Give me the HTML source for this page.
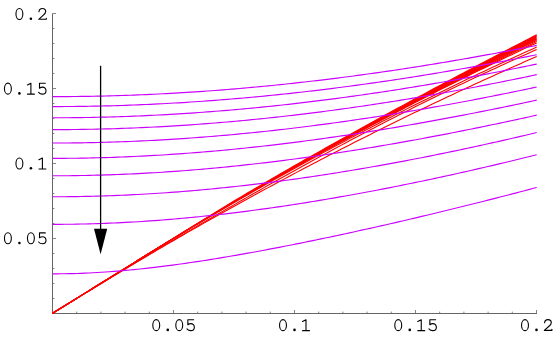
<!DOCTYPE html>
<html><head><meta charset="utf-8"><style>
html,body{margin:0;padding:0;background:#fff;font-family:"Liberation Mono",monospace;}
svg{display:block}
</style></head><body>
<svg width="554" height="342" viewBox="0 0 554 342">
<rect width="554" height="342" fill="#fff"/>
<g fill="none" stroke="#666" stroke-width="1">
<path d="M52.00,313.50 H537.00"/>
<path d="M52.50,314.00 V13.50"/>
</g>
<path d="M76.70,313.50 v-1.9 M100.90,313.50 v-1.9 M125.10,313.50 v-1.9 M149.30,313.50 v-1.9 M173.50,313.50 v-3.5 M197.70,313.50 v-1.9 M221.90,313.50 v-1.9 M246.10,313.50 v-1.9 M270.30,313.50 v-1.9 M294.50,313.50 v-3.5 M318.70,313.50 v-1.9 M342.90,313.50 v-1.9 M367.10,313.50 v-1.9 M391.30,313.50 v-1.9 M415.50,313.50 v-3.5 M439.70,313.50 v-1.9 M463.90,313.50 v-1.9 M488.10,313.50 v-1.9 M512.30,313.50 v-1.9 M536.50,313.50 v-3.5 M52.50,298.50 h1.9 M52.50,283.50 h1.9 M52.50,268.50 h1.9 M52.50,253.50 h1.9 M52.50,238.50 h3.5 M52.50,223.50 h1.9 M52.50,208.50 h1.9 M52.50,193.50 h1.9 M52.50,178.50 h1.9 M52.50,163.50 h3.5 M52.50,148.50 h1.9 M52.50,133.50 h1.9 M52.50,118.50 h1.9 M52.50,103.50 h1.9 M52.50,88.50 h3.5 M52.50,73.50 h1.9 M52.50,58.50 h1.9 M52.50,43.50 h1.9 M52.50,28.50 h1.9 M52.50,13.50 h3.5" fill="none" stroke="#666" stroke-width="0.8"/>
<path d="M52.50,313.30 L56.57,310.78 L60.64,308.26 L64.71,305.73 L68.78,303.21 L72.84,300.69 L76.91,298.17 L80.98,295.65 L85.05,293.12 L89.12,290.60 L93.19,288.08 L97.26,285.56 L101.33,283.04 L105.40,280.51 L109.46,277.99 L113.53,275.47 L117.60,272.95 L121.67,270.43 L125.74,267.90 L129.81,265.38 L133.88,262.86 L137.95,260.34 L142.02,257.81 L146.08,255.29 L150.15,252.77 L154.22,250.25 L158.29,247.73 L162.36,245.20 L166.43,242.68 L170.50,240.16 L174.57,237.64 L178.64,235.12 L182.71,232.59 L186.77,230.07 L190.84,227.55 L194.91,225.03 L198.98,222.51 L203.05,219.98 L207.12,217.46 L211.19,214.94 L215.26,212.42 L219.33,209.92 L223.39,207.44 L227.46,204.97 L231.53,202.53 L235.60,200.09 L239.67,197.66 L243.74,195.24 L247.81,192.83 L251.88,190.43 L255.95,188.04 L260.01,185.65 L264.08,183.27 L268.15,180.90 L272.22,178.54 L276.29,176.18 L280.36,173.83 L284.43,171.48 L288.50,169.14 L292.57,166.81 L296.63,164.48 L300.70,162.16 L304.77,159.84 L308.84,157.53 L312.91,155.22 L316.98,152.92 L321.05,150.62 L325.12,148.33 L329.19,146.04 L333.25,143.76 L337.32,141.48 L341.39,139.21 L345.46,136.94 L349.53,134.68 L353.60,132.42 L357.67,130.17 L361.74,127.92 L365.81,125.67 L369.87,123.43 L373.94,121.19 L378.01,118.96 L382.08,116.73 L386.15,114.50 L390.22,112.28 L394.29,110.06 L398.36,107.85 L402.43,105.64 L406.49,103.43 L410.56,101.23 L414.63,99.03 L418.70,96.84 L422.77,94.65 L426.84,92.46 L430.91,90.28 L434.98,88.10 L439.05,85.92 L443.12,83.75 L447.18,81.58 L451.25,79.42 L455.32,77.25 L459.39,75.10 L463.46,72.94 L467.53,70.79 L471.60,68.64 L475.67,66.50 L479.74,64.35 L483.80,62.22 L487.87,60.08 L491.94,57.95 L496.01,55.82 L500.08,53.70 L504.15,51.57 L508.22,49.46 L512.29,47.34 L516.36,45.23 L520.42,43.12 L524.49,41.01 L528.56,38.91 L532.63,36.81 L536.70,34.71 L536.70,39.50 L532.63,41.48 L528.56,43.47 L524.49,45.47 L520.42,47.47 L516.36,49.47 L512.29,51.48 L508.22,53.50 L504.15,55.52 L500.08,57.54 L496.01,59.57 L491.94,61.61 L487.87,63.65 L483.80,65.69 L479.74,67.74 L475.67,69.80 L471.60,71.86 L467.53,73.92 L463.46,76.00 L459.39,78.07 L455.32,80.15 L451.25,82.24 L447.18,84.33 L443.12,86.43 L439.05,88.53 L434.98,90.64 L430.91,92.76 L426.84,94.87 L422.77,97.00 L418.70,99.13 L414.63,101.26 L410.56,103.40 L406.49,105.55 L402.43,107.70 L398.36,109.85 L394.29,112.02 L390.22,114.18 L386.15,116.36 L382.08,118.53 L378.01,120.72 L373.94,122.91 L369.87,125.10 L365.81,127.30 L361.74,129.51 L357.67,131.72 L353.60,133.93 L349.53,136.16 L345.46,138.38 L341.39,140.62 L337.32,142.86 L333.25,145.10 L329.19,147.35 L325.12,149.61 L321.05,151.87 L316.98,154.14 L312.91,156.41 L308.84,158.69 L304.77,160.98 L300.70,163.27 L296.63,165.57 L292.57,167.88 L288.50,170.19 L284.43,172.50 L280.36,174.83 L276.29,177.15 L272.22,179.49 L268.15,181.83 L264.08,184.18 L260.01,186.54 L255.95,188.90 L251.88,191.27 L247.81,193.64 L243.74,196.03 L239.67,198.42 L235.60,200.82 L231.53,203.22 L227.46,205.64 L223.39,208.06 L219.33,210.50 L215.26,212.95 L211.19,215.41 L207.12,217.87 L203.05,220.34 L198.98,222.81 L194.91,225.29 L190.84,227.77 L186.77,230.25 L182.71,232.74 L178.64,235.23 L174.57,237.72 L170.50,240.22 L166.43,242.72 L162.36,245.23 L158.29,247.74 L154.22,250.25 L150.15,252.77 L146.08,255.29 L142.02,257.81 L137.95,260.34 L133.88,262.86 L129.81,265.38 L125.74,267.90 L121.67,270.43 L117.60,272.95 L113.53,275.47 L109.46,277.99 L105.40,280.51 L101.33,283.04 L97.26,285.56 L93.19,288.08 L89.12,290.60 L85.05,293.12 L80.98,295.65 L76.91,298.17 L72.84,300.69 L68.78,303.21 L64.71,305.73 L60.64,308.26 L56.57,310.78 L52.50,313.30 Z M52.50,313.30 L56.57,310.78 L60.64,308.26 L64.71,305.73 L68.78,303.21 L72.84,300.69 L76.91,298.17 L80.98,295.65 L85.05,293.12 L89.12,290.60 L93.19,288.08 L97.26,285.56 L101.33,283.04 L105.40,280.51 L109.46,277.99 L113.53,275.47 L117.60,272.95 L121.67,270.43 L125.74,267.90 L129.81,265.38 L133.88,262.86 L137.95,260.34 L142.02,257.81 L146.08,255.29 L150.15,252.77 L154.22,250.25 L158.29,247.73 L162.36,245.20 L166.43,242.68 L170.50,240.16 L174.57,237.64 L178.64,235.12 L182.71,232.59 L186.77,230.07 L190.84,227.55 L194.91,225.03 L198.98,222.51 L203.05,219.98 L207.12,217.46 L211.19,214.94 L215.26,212.42 L219.33,209.92 L223.39,207.44 L227.46,204.97 L231.53,202.53 L235.60,200.09 L239.67,197.66 L243.74,195.24 L247.81,192.83 L251.88,190.43 L255.95,188.04 L260.01,185.65 L264.08,183.27 L268.15,180.90 L272.22,178.54 L276.29,176.18 L280.36,173.83 L284.43,171.48 L288.50,169.14 L292.57,166.81 L296.63,164.48 L300.70,162.16 L304.77,159.84 L308.84,157.53 L312.91,155.22 L316.98,152.92 L321.05,150.62 L325.12,148.33 L329.19,146.04 L333.25,143.76 L337.32,141.48 L341.39,139.21 L345.46,136.94 L349.53,134.68 L353.60,132.42 L357.67,130.17 L361.74,127.92 L365.81,125.67 L369.87,123.43 L373.94,121.19 L378.01,118.96 L382.08,116.73 L386.15,114.50 L390.22,112.28 L394.29,110.06 L398.36,107.85 L402.43,105.64 L406.49,103.43 L410.56,101.23 L414.63,99.03 L418.70,96.84 L422.77,94.65 L426.84,92.46 L430.91,90.28 L434.98,88.10 L439.05,85.92 L443.12,83.75 L447.18,81.58 L451.25,79.42 L455.32,77.25 L459.39,75.10 L463.46,72.94 L467.53,70.79 L471.60,68.64 L475.67,66.50 L479.74,64.35 L483.80,62.22 L487.87,60.08 L491.94,57.95 L491.94,64.19 L487.87,66.16 L483.80,68.14 L479.74,70.13 L475.67,72.13 L471.60,74.13 L467.53,76.14 L463.46,78.15 L459.39,80.17 L455.32,82.20 L451.25,84.24 L447.18,86.28 L443.12,88.32 L439.05,90.38 L434.98,92.44 L430.91,94.50 L426.84,96.58 L422.77,98.66 L418.70,100.74 L414.63,102.83 L410.56,104.93 L406.49,107.04 L402.43,109.15 L398.36,111.27 L394.29,113.39 L390.22,115.53 L386.15,117.66 L382.08,119.81 L378.01,121.96 L373.94,124.12 L369.87,126.28 L365.81,128.45 L361.74,130.63 L357.67,132.81 L353.60,135.00 L349.53,137.20 L345.46,139.40 L341.39,141.61 L337.32,143.83 L333.25,146.05 L329.19,148.28 L325.12,150.51 L321.05,152.75 L316.98,155.00 L312.91,157.26 L308.84,159.52 L304.77,161.79 L300.70,164.06 L296.63,166.34 L292.57,168.63 L288.50,170.92 L284.43,173.22 L280.36,175.53 L276.29,177.84 L272.22,180.16 L268.15,182.49 L264.08,184.82 L260.01,187.16 L255.95,189.51 L251.88,191.86 L247.81,194.22 L243.74,196.58 L239.67,198.95 L235.60,201.33 L231.53,203.72 L227.46,206.11 L223.39,208.51 L219.33,210.91 L215.26,213.32 L211.19,215.74 L207.12,218.16 L203.05,220.59 L198.98,223.03 L194.91,225.47 L190.84,227.92 L186.77,230.38 L182.71,232.84 L178.64,235.31 L174.57,237.78 L170.50,240.27 L166.43,242.75 L162.36,245.25 L158.29,247.75 L154.22,250.26 L150.15,252.77 L146.08,255.29 L142.02,257.81 L137.95,260.34 L133.88,262.86 L129.81,265.38 L125.74,267.90 L121.67,270.43 L117.60,272.95 L113.53,275.47 L109.46,277.99 L105.40,280.51 L101.33,283.04 L97.26,285.56 L93.19,288.08 L89.12,290.60 L85.05,293.12 L80.98,295.65 L76.91,298.17 L72.84,300.69 L68.78,303.21 L64.71,305.73 L60.64,308.26 L56.57,310.78 L52.50,313.30 Z" fill="#ff0000" stroke="none"/>
<g fill="none" stroke="#ff0000" stroke-width="1.1">
<path d="M52.50,313.30 L56.57,310.78 L60.64,308.26 L64.71,305.73 L68.78,303.21 L72.84,300.69 L76.91,298.17 L80.98,295.65 L85.05,293.12 L89.12,290.60 L93.19,288.08 L97.26,285.56 L101.33,283.04 L105.40,280.51 L109.46,277.99 L113.53,275.47 L117.60,272.95 L121.67,270.43 L125.74,267.90 L129.81,265.38 L133.88,262.86 L137.95,260.34 L142.02,257.81 L146.08,255.29 L150.15,252.77 L154.22,250.25 L158.29,247.73 L162.36,245.20 L166.43,242.68 L170.50,240.16 L174.57,237.64 L178.64,235.12 L182.71,232.59 L186.77,230.07 L190.84,227.55 L194.91,225.03 L198.98,222.51 L203.05,219.98 L207.12,217.46 L211.19,214.94 L215.26,212.42 L219.33,209.92 L223.39,207.44 L227.46,204.97 L231.53,202.53 L235.60,200.09 L239.67,197.66 L243.74,195.24 L247.81,192.83 L251.88,190.43 L255.95,188.04 L260.01,185.65 L264.08,183.27 L268.15,180.90 L272.22,178.54 L276.29,176.18 L280.36,173.83 L284.43,171.48 L288.50,169.14 L292.57,166.81 L296.63,164.48 L300.70,162.16 L304.77,159.84 L308.84,157.53 L312.91,155.22 L316.98,152.92 L321.05,150.62 L325.12,148.33 L329.19,146.04 L333.25,143.76 L337.32,141.48 L341.39,139.21 L345.46,136.94 L349.53,134.68 L353.60,132.42 L357.67,130.17 L361.74,127.92 L365.81,125.67 L369.87,123.43 L373.94,121.19 L378.01,118.96 L382.08,116.73 L386.15,114.50 L390.22,112.28 L394.29,110.06 L398.36,107.85 L402.43,105.64 L406.49,103.43 L410.56,101.23 L414.63,99.03 L418.70,96.84 L422.77,94.65 L426.84,92.46 L430.91,90.28 L434.98,88.10 L439.05,85.92 L443.12,83.75 L447.18,81.58 L451.25,79.42 L455.32,77.25 L459.39,75.10 L463.46,72.94 L467.53,70.79 L471.60,68.64 L475.67,66.50 L479.74,64.35 L483.80,62.22 L487.87,60.08 L491.94,57.95 L496.01,55.82 L500.08,53.70 L504.15,51.57 L508.22,49.46 L512.29,47.34 L516.36,45.23 L520.42,43.12 L524.49,41.01 L528.56,38.91 L532.63,36.81 L536.70,34.71"/>
<path d="M52.50,313.30 L56.57,310.78 L60.64,308.26 L64.71,305.73 L68.78,303.21 L72.84,300.69 L76.91,298.17 L80.98,295.65 L85.05,293.12 L89.12,290.60 L93.19,288.08 L97.26,285.56 L101.33,283.04 L105.40,280.51 L109.46,277.99 L113.53,275.47 L117.60,272.95 L121.67,270.43 L125.74,267.90 L129.81,265.38 L133.88,262.86 L137.95,260.34 L142.02,257.81 L146.08,255.29 L150.15,252.77 L154.22,250.25 L158.29,247.74 L162.36,245.23 L166.43,242.72 L170.50,240.22 L174.57,237.72 L178.64,235.23 L182.71,232.74 L186.77,230.25 L190.84,227.77 L194.91,225.29 L198.98,222.81 L203.05,220.34 L207.12,217.87 L211.19,215.41 L215.26,212.95 L219.33,210.50 L223.39,208.06 L227.46,205.64 L231.53,203.22 L235.60,200.82 L239.67,198.42 L243.74,196.03 L247.81,193.64 L251.88,191.27 L255.95,188.90 L260.01,186.54 L264.08,184.18 L268.15,181.83 L272.22,179.49 L276.29,177.15 L280.36,174.83 L284.43,172.50 L288.50,170.19 L292.57,167.88 L296.63,165.57 L300.70,163.27 L304.77,160.98 L308.84,158.69 L312.91,156.41 L316.98,154.14 L321.05,151.87 L325.12,149.61 L329.19,147.35 L333.25,145.10 L337.32,142.86 L341.39,140.62 L345.46,138.38 L349.53,136.16 L353.60,133.93 L357.67,131.72 L361.74,129.51 L365.81,127.30 L369.87,125.10 L373.94,122.91 L378.01,120.72 L382.08,118.53 L386.15,116.36 L390.22,114.18 L394.29,112.02 L398.36,109.85 L402.43,107.70 L406.49,105.55 L410.56,103.40 L414.63,101.26 L418.70,99.13 L422.77,97.00 L426.84,94.87 L430.91,92.76 L434.98,90.64 L439.05,88.53 L443.12,86.43 L447.18,84.33 L451.25,82.24 L455.32,80.15 L459.39,78.07 L463.46,76.00 L467.53,73.92 L471.60,71.86 L475.67,69.80 L479.74,67.74 L483.80,65.69 L487.87,63.65 L491.94,61.61 L496.01,59.57 L500.08,57.54 L504.15,55.52 L508.22,53.50 L512.29,51.48 L516.36,49.47 L520.42,47.47 L524.49,45.47 L528.56,43.47 L532.63,41.48 L536.70,39.50"/>
<path d="M52.50,313.30 L56.57,310.78 L60.64,308.26 L64.71,305.73 L68.78,303.21 L72.84,300.69 L76.91,298.17 L80.98,295.65 L85.05,293.12 L89.12,290.60 L93.19,288.08 L97.26,285.56 L101.33,283.04 L105.40,280.51 L109.46,277.99 L113.53,275.47 L117.60,272.95 L121.67,270.43 L125.74,267.90 L129.81,265.38 L133.88,262.86 L137.95,260.34 L142.02,257.81 L146.08,255.29 L150.15,252.77 L154.22,250.26 L158.29,247.74 L162.36,245.24 L166.43,242.73 L170.50,240.23 L174.57,237.74 L178.64,235.25 L182.71,232.76 L186.77,230.28 L190.84,227.81 L194.91,225.34 L198.98,222.87 L203.05,220.41 L207.12,217.95 L211.19,215.50 L215.26,213.05 L219.33,210.61 L223.39,208.18 L227.46,205.76 L231.53,203.36 L235.60,200.95 L239.67,198.56 L243.74,196.18 L247.81,193.80 L251.88,191.43 L255.95,189.06 L260.01,186.70 L264.08,184.35 L268.15,182.01 L272.22,179.67 L276.29,177.34 L280.36,175.01 L284.43,172.69 L288.50,170.38 L292.57,168.08 L296.63,165.78 L300.70,163.48 L304.77,161.20 L308.84,158.91 L312.91,156.64 L316.98,154.37 L321.05,152.11 L325.12,149.85 L329.19,147.60 L333.25,145.35 L337.32,143.12 L341.39,140.88 L345.46,138.65 L349.53,136.43 L353.60,134.22 L357.67,132.01 L361.74,129.80 L365.81,127.61 L369.87,125.41 L373.94,123.23 L378.01,121.05 L382.08,118.87 L386.15,116.70 L390.22,114.54 L394.29,112.38 L398.36,110.23 L402.43,108.09 L406.49,105.94 L410.56,103.81 L414.63,101.68 L418.70,99.56 L422.77,97.44 L426.84,95.33 L430.91,93.22 L434.98,91.12 L439.05,89.02 L443.12,86.93 L447.18,84.85 L451.25,82.77 L455.32,80.70 L459.39,78.63 L463.46,76.57 L467.53,74.51 L471.60,72.46 L475.67,70.42 L479.74,68.38 L483.80,66.34 L487.87,64.32 L491.94,62.29 L496.01,60.27 L500.08,58.26 L504.15,56.26 L508.22,54.25 L512.29,52.26 L516.36,50.27 L520.42,48.28 L524.49,46.30 L528.56,44.33 L532.63,42.36 L536.70,40.40"/>
<path d="M52.50,313.30 L56.57,310.78 L60.64,308.26 L64.71,305.73 L68.78,303.21 L72.84,300.69 L76.91,298.17 L80.98,295.65 L85.05,293.12 L89.12,290.60 L93.19,288.08 L97.26,285.56 L101.33,283.04 L105.40,280.51 L109.46,277.99 L113.53,275.47 L117.60,272.95 L121.67,270.43 L125.74,267.90 L129.81,265.38 L133.88,262.86 L137.95,260.34 L142.02,257.81 L146.08,255.29 L150.15,252.77 L154.22,250.26 L158.29,247.75 L162.36,245.24 L166.43,242.74 L170.50,240.25 L174.57,237.76 L178.64,235.28 L182.71,232.80 L186.77,230.33 L190.84,227.86 L194.91,225.40 L198.98,222.95 L203.05,220.50 L207.12,218.05 L211.19,215.61 L215.26,213.18 L219.33,210.75 L223.39,208.34 L227.46,205.93 L231.53,203.53 L235.60,201.14 L239.67,198.75 L243.74,196.37 L247.81,194.00 L251.88,191.64 L255.95,189.28 L260.01,186.92 L264.08,184.58 L268.15,182.24 L272.22,179.91 L276.29,177.58 L280.36,175.26 L284.43,172.95 L288.50,170.64 L292.57,168.34 L296.63,166.05 L300.70,163.76 L304.77,161.48 L308.84,159.21 L312.91,156.94 L316.98,154.68 L321.05,152.42 L325.12,150.17 L329.19,147.93 L333.25,145.69 L337.32,143.46 L341.39,141.23 L345.46,139.02 L349.53,136.80 L353.60,134.60 L357.67,132.40 L361.74,130.20 L365.81,128.02 L369.87,125.83 L373.94,123.66 L378.01,121.49 L382.08,119.33 L386.15,117.17 L390.22,115.02 L394.29,112.87 L398.36,110.73 L402.43,108.60 L406.49,106.47 L410.56,104.35 L414.63,102.24 L418.70,100.13 L422.77,98.03 L426.84,95.93 L430.91,93.84 L434.98,91.76 L439.05,89.68 L443.12,87.61 L447.18,85.54 L451.25,83.48 L455.32,81.43 L459.39,79.38 L463.46,77.34 L467.53,75.30 L471.60,73.27 L475.67,71.24 L479.74,69.23 L483.80,67.21 L487.87,65.21 L491.94,63.21 L496.01,61.21 L500.08,59.23 L504.15,57.24 L508.22,55.27 L512.29,53.30 L516.36,51.33 L520.42,49.37 L524.49,47.42 L528.56,45.48 L532.63,43.53 L536.70,41.60"/>
<path d="M52.50,313.30 L56.57,310.78 L60.64,308.26 L64.71,305.73 L68.78,303.21 L72.84,300.69 L76.91,298.17 L80.98,295.65 L85.05,293.12 L89.12,290.60 L93.19,288.08 L97.26,285.56 L101.33,283.04 L105.40,280.51 L109.46,277.99 L113.53,275.47 L117.60,272.95 L121.67,270.43 L125.74,267.90 L129.81,265.38 L133.88,262.86 L137.95,260.34 L142.02,257.81 L146.08,255.29 L150.15,252.77 L154.22,250.26 L158.29,247.75 L162.36,245.25 L166.43,242.75 L170.50,240.27 L174.57,237.78 L178.64,235.31 L182.71,232.84 L186.77,230.38 L190.84,227.92 L194.91,225.47 L198.98,223.03 L203.05,220.59 L207.12,218.16 L211.19,215.74 L215.26,213.32 L219.33,210.91 L223.39,208.51 L227.46,206.11 L231.53,203.72 L235.60,201.33 L239.67,198.95 L243.74,196.58 L247.81,194.22 L251.88,191.86 L255.95,189.51 L260.01,187.16 L264.08,184.82 L268.15,182.49 L272.22,180.16 L276.29,177.84 L280.36,175.53 L284.43,173.22 L288.50,170.92 L292.57,168.63 L296.63,166.34 L300.70,164.06 L304.77,161.79 L308.84,159.52 L312.91,157.26 L316.98,155.00 L321.05,152.75 L325.12,150.51 L329.19,148.28 L333.25,146.05 L337.32,143.83 L341.39,141.61 L345.46,139.40 L349.53,137.20 L353.60,135.00 L357.67,132.81 L361.74,130.63 L365.81,128.45 L369.87,126.28 L373.94,124.12 L378.01,121.96 L382.08,119.81 L386.15,117.66 L390.22,115.53 L394.29,113.39 L398.36,111.27 L402.43,109.15 L406.49,107.04 L410.56,104.93 L414.63,102.83 L418.70,100.74 L422.77,98.66 L426.84,96.58 L430.91,94.50 L434.98,92.44 L439.05,90.38 L443.12,88.32 L447.18,86.28 L451.25,84.24 L455.32,82.20 L459.39,80.17 L463.46,78.15 L467.53,76.14 L471.60,74.13 L475.67,72.13 L479.74,70.13 L483.80,68.14 L487.87,66.16 L491.94,64.19 L496.01,62.22 L500.08,60.25 L504.15,58.30 L508.22,56.35 L512.29,54.40 L516.36,52.47 L520.42,50.54 L524.49,48.61 L528.56,46.70 L532.63,44.79 L536.70,42.88"/>
<path d="M52.50,313.30 L56.57,310.78 L60.64,308.26 L64.71,305.73 L68.78,303.21 L72.84,300.69 L76.91,298.17 L80.98,295.65 L85.05,293.12 L89.12,290.60 L93.19,288.08 L97.26,285.56 L101.33,283.04 L105.40,280.51 L109.46,277.99 L113.53,275.47 L117.60,272.95 L121.67,270.43 L125.74,267.90 L129.81,265.38 L133.88,262.86 L137.95,260.34 L142.02,257.81 L146.08,255.30 L150.15,252.79 L154.22,250.28 L158.29,247.79 L162.36,245.30 L166.43,242.82 L170.50,240.34 L174.57,237.88 L178.64,235.42 L182.71,232.96 L186.77,230.52 L190.84,228.08 L194.91,225.65 L198.98,223.22 L203.05,220.81 L207.12,218.40 L211.19,215.99 L215.26,213.60 L219.33,211.21 L223.39,208.83 L227.46,206.46 L231.53,204.09 L235.60,201.73 L239.67,199.38 L243.74,197.03 L247.81,194.69 L251.88,192.36 L255.95,190.04 L260.01,187.72 L264.08,185.41 L268.15,183.11 L272.22,180.82 L276.29,178.53 L280.36,176.25 L284.43,173.98 L288.50,171.71 L292.57,169.45 L296.63,167.20 L300.70,164.95 L304.77,162.72 L308.84,160.49 L312.91,158.26 L316.98,156.05 L321.05,153.84 L325.12,151.64 L329.19,149.44 L333.25,147.26 L337.32,145.08 L341.39,142.90 L345.46,140.74 L349.53,138.58 L353.60,136.43 L357.67,134.29 L361.74,132.15 L365.81,130.02 L369.87,127.90 L373.94,125.78 L378.01,123.67 L382.08,121.57 L386.15,119.48 L390.22,117.39 L394.29,115.31 L398.36,113.24 L402.43,111.18 L406.49,109.12 L410.56,107.07 L414.63,105.02 L418.70,102.99 L422.77,100.96 L426.84,98.94 L430.91,96.92 L434.98,94.91 L439.05,92.91 L443.12,90.92 L447.18,88.94 L451.25,86.96 L455.32,84.99 L459.39,83.02 L463.46,81.06 L467.53,79.11 L471.60,77.17 L475.67,75.24 L479.74,73.31 L483.80,71.39 L487.87,69.47 L491.94,67.56 L496.01,65.67 L500.08,63.77 L504.15,61.89 L508.22,60.01 L512.29,58.14 L516.36,56.27 L520.42,54.42 L524.49,52.57 L528.56,50.73 L532.63,48.89 L536.70,47.06"/>
<path d="M52.50,313.38 L56.57,310.87 L60.64,308.37 L64.71,305.87 L68.78,303.37 L72.84,300.87 L76.91,298.38 L80.98,295.89 L85.05,293.40 L89.12,290.91 L93.19,288.43 L97.26,285.95 L101.33,283.47 L105.40,281.00 L109.46,278.52 L113.53,276.06 L117.60,273.59 L121.67,271.13 L125.74,268.67 L129.81,266.22 L133.88,263.76 L137.95,261.32 L142.02,258.87 L146.08,256.43 L150.15,254.00 L154.22,251.56 L158.29,249.14 L162.36,246.71 L166.43,244.29 L170.50,241.88 L174.57,239.47 L178.64,237.06 L182.71,234.66 L186.77,232.26 L190.84,229.86 L194.91,227.48 L198.98,225.09 L203.05,222.71 L207.12,220.34 L211.19,217.97 L215.26,215.60 L219.33,213.24 L223.39,210.89 L227.46,208.54 L231.53,206.20 L235.60,203.86 L239.67,201.53 L243.74,199.20 L247.81,196.88 L251.88,194.56 L255.95,192.25 L260.01,189.94 L264.08,187.64 L268.15,185.35 L272.22,183.06 L276.29,180.78 L280.36,178.50 L284.43,176.23 L288.50,173.97 L292.57,171.71 L296.63,169.46 L300.70,167.21 L304.77,164.97 L308.84,162.74 L312.91,160.51 L316.98,158.29 L321.05,156.08 L325.12,153.87 L329.19,151.67 L333.25,149.48 L337.32,147.29 L341.39,145.11 L345.46,142.94 L349.53,140.77 L353.60,138.61 L357.67,136.46 L361.74,134.32 L365.81,132.18 L369.87,130.05 L373.94,127.93 L378.01,125.81 L382.08,123.70 L386.15,121.60 L390.22,119.51 L394.29,117.42 L398.36,115.34 L402.43,113.27 L406.49,111.21 L410.56,109.16 L414.63,107.11 L418.70,105.07 L422.77,103.04 L426.84,101.01 L430.91,99.00 L434.98,96.99 L439.05,94.99 L443.12,93.00 L447.18,91.02 L451.25,89.04 L455.32,87.08 L459.39,85.12 L463.46,83.17 L467.53,81.23 L471.60,79.30 L475.67,77.37 L479.74,75.46 L483.80,73.55 L487.87,71.65 L491.94,69.76 L496.01,67.88 L500.08,66.01 L504.15,64.15 L508.22,62.29 L512.29,60.45 L516.36,58.61 L520.42,56.79 L524.49,54.97 L528.56,53.16 L532.63,51.37 L536.70,49.58"/>
<path d="M52.50,313.30 L56.57,310.78 L60.64,308.26 L64.71,305.73 L68.78,303.21 L72.84,300.69 L76.91,298.18 L80.98,295.68 L85.05,293.18 L89.12,290.69 L93.19,288.21 L97.26,285.73 L101.33,283.26 L105.40,280.79 L109.46,278.34 L113.53,275.89 L117.60,273.44 L121.67,271.00 L125.74,268.57 L129.81,266.15 L133.88,263.73 L137.95,261.32 L142.02,258.91 L146.08,256.52 L150.15,254.12 L154.22,251.74 L158.29,249.36 L162.36,246.99 L166.43,244.62 L170.50,242.27 L174.57,239.91 L178.64,237.57 L182.71,235.23 L186.77,232.89 L190.84,230.57 L194.91,228.25 L198.98,225.94 L203.05,223.63 L207.12,221.33 L211.19,219.04 L215.26,216.75 L219.33,214.47 L223.39,212.19 L227.46,209.93 L231.53,207.66 L235.60,205.41 L239.67,203.16 L243.74,200.92 L247.81,198.69 L251.88,196.46 L255.95,194.23 L260.01,192.02 L264.08,189.81 L268.15,187.61 L272.22,185.41 L276.29,183.22 L280.36,181.04 L284.43,178.86 L288.50,176.69 L292.57,174.53 L296.63,172.37 L300.70,170.22 L304.77,168.07 L308.84,165.94 L312.91,163.81 L316.98,161.68 L321.05,159.56 L325.12,157.45 L329.19,155.34 L333.25,153.24 L337.32,151.15 L341.39,149.07 L345.46,146.99 L349.53,144.91 L353.60,142.85 L357.67,140.79 L361.74,138.73 L365.81,136.68 L369.87,134.64 L373.94,132.61 L378.01,130.58 L382.08,128.56 L386.15,126.54 L390.22,124.53 L394.29,122.53 L398.36,120.54 L402.43,118.55 L406.49,116.56 L410.56,114.59 L414.63,112.62 L418.70,110.65 L422.77,108.70 L426.84,106.74 L430.91,104.80 L434.98,102.86 L439.05,100.93 L443.12,99.01 L447.18,97.09 L451.25,95.17 L455.32,93.27 L459.39,91.37 L463.46,89.48 L467.53,87.59 L471.60,85.71 L475.67,83.84 L479.74,81.97 L483.80,80.11 L487.87,78.25 L491.94,76.40 L496.01,74.56 L500.08,72.73 L504.15,70.90 L508.22,69.08 L512.29,67.26 L516.36,65.45 L520.42,63.65 L524.49,61.85 L528.56,60.06 L532.63,58.28 L536.70,56.50"/>
</g>
<g fill="none" stroke="#cc00ff" stroke-width="1.15">
<path d="M52.50,96.63 L56.57,96.63 L60.64,96.62 L64.71,96.60 L68.78,96.57 L72.84,96.54 L76.91,96.49 L80.98,96.44 L85.05,96.38 L89.12,96.32 L93.19,96.24 L97.26,96.16 L101.33,96.07 L105.40,95.98 L109.46,95.87 L113.53,95.76 L117.60,95.64 L121.67,95.51 L125.74,95.37 L129.81,95.23 L133.88,95.08 L137.95,94.92 L142.02,94.75 L146.08,94.58 L150.15,94.39 L154.22,94.20 L158.29,94.01 L162.36,93.80 L166.43,93.59 L170.50,93.37 L174.57,93.14 L178.64,92.91 L182.71,92.66 L186.77,92.41 L190.84,92.16 L194.91,91.89 L198.98,91.62 L203.05,91.34 L207.12,91.05 L211.19,90.76 L215.26,90.45 L219.33,90.14 L223.39,89.83 L227.46,89.50 L231.53,89.17 L235.60,88.83 L239.67,88.48 L243.74,88.13 L247.81,87.77 L251.88,87.40 L255.95,87.03 L260.01,86.65 L264.08,86.26 L268.15,85.86 L272.22,85.46 L276.29,85.05 L280.36,84.63 L284.43,84.21 L288.50,83.77 L292.57,83.34 L296.63,82.89 L300.70,82.44 L304.77,81.98 L308.84,81.51 L312.91,81.04 L316.98,80.56 L321.05,80.08 L325.12,79.58 L329.19,79.08 L333.25,78.58 L337.32,78.07 L341.39,77.55 L345.46,77.02 L349.53,76.49 L353.60,75.95 L357.67,75.40 L361.74,74.85 L365.81,74.29 L369.87,73.73 L373.94,73.16 L378.01,72.58 L382.08,72.00 L386.15,71.41 L390.22,70.81 L394.29,70.21 L398.36,69.60 L402.43,68.98 L406.49,68.36 L410.56,67.74 L414.63,67.10 L418.70,66.46 L422.77,65.82 L426.84,65.17 L430.91,64.51 L434.98,63.84 L439.05,63.18 L443.12,62.50 L447.18,61.82 L451.25,61.13 L455.32,60.44 L459.39,59.74 L463.46,59.04 L467.53,58.33 L471.60,57.61 L475.67,56.89 L479.74,56.16 L483.80,55.43 L487.87,54.69 L491.94,53.95 L496.01,53.20 L500.08,52.44 L504.15,51.68 L508.22,50.92 L512.29,50.14 L516.36,49.37 L520.42,48.59 L524.49,47.80 L528.56,47.00 L532.63,46.21 L536.70,45.40"/>
<path d="M52.50,106.59 L56.57,106.58 L60.64,106.57 L64.71,106.55 L68.78,106.52 L72.84,106.49 L76.91,106.44 L80.98,106.39 L85.05,106.33 L89.12,106.27 L93.19,106.19 L97.26,106.11 L101.33,106.02 L105.40,105.92 L109.46,105.81 L113.53,105.70 L117.60,105.58 L121.67,105.45 L125.74,105.31 L129.81,105.16 L133.88,105.01 L137.95,104.85 L142.02,104.68 L146.08,104.50 L150.15,104.32 L154.22,104.13 L158.29,103.93 L162.36,103.72 L166.43,103.50 L170.50,103.28 L174.57,103.05 L178.64,102.81 L182.71,102.57 L186.77,102.31 L190.84,102.05 L194.91,101.78 L198.98,101.51 L203.05,101.22 L207.12,100.93 L211.19,100.63 L215.26,100.33 L219.33,100.02 L223.39,99.69 L227.46,99.37 L231.53,99.03 L235.60,98.69 L239.67,98.34 L243.74,97.98 L247.81,97.61 L251.88,97.24 L255.95,96.86 L260.01,96.48 L264.08,96.08 L268.15,95.68 L272.22,95.27 L276.29,94.86 L280.36,94.44 L284.43,94.01 L288.50,93.57 L292.57,93.13 L296.63,92.68 L300.70,92.22 L304.77,91.75 L308.84,91.28 L312.91,90.81 L316.98,90.32 L321.05,89.83 L325.12,89.33 L329.19,88.83 L333.25,88.31 L337.32,87.79 L341.39,87.27 L345.46,86.74 L349.53,86.20 L353.60,85.65 L357.67,85.10 L361.74,84.54 L365.81,83.98 L369.87,83.41 L373.94,82.83 L378.01,82.25 L382.08,81.65 L386.15,81.06 L390.22,80.45 L394.29,79.84 L398.36,79.23 L402.43,78.61 L406.49,77.98 L410.56,77.34 L414.63,76.70 L418.70,76.06 L422.77,75.40 L426.84,74.74 L430.91,74.08 L434.98,73.41 L439.05,72.73 L443.12,72.05 L447.18,71.36 L451.25,70.66 L455.32,69.96 L459.39,69.26 L463.46,68.54 L467.53,67.83 L471.60,67.10 L475.67,66.37 L479.74,65.64 L483.80,64.89 L487.87,64.15 L491.94,63.39 L496.01,62.64 L500.08,61.87 L504.15,61.10 L508.22,60.33 L512.29,59.55 L516.36,58.76 L520.42,57.97 L524.49,57.17 L528.56,56.37 L532.63,55.56 L536.70,54.75"/>
<path d="M52.50,117.78 L56.57,117.77 L60.64,117.76 L64.71,117.74 L68.78,117.71 L72.84,117.68 L76.91,117.63 L80.98,117.58 L85.05,117.52 L89.12,117.45 L93.19,117.37 L97.26,117.28 L101.33,117.19 L105.40,117.09 L109.46,116.98 L113.53,116.86 L117.60,116.73 L121.67,116.60 L125.74,116.46 L129.81,116.31 L133.88,116.15 L137.95,115.98 L142.02,115.81 L146.08,115.62 L150.15,115.43 L154.22,115.23 L158.29,115.03 L162.36,114.81 L166.43,114.59 L170.50,114.36 L174.57,114.12 L178.64,113.87 L182.71,113.62 L186.77,113.36 L190.84,113.09 L194.91,112.81 L198.98,112.52 L203.05,112.23 L207.12,111.93 L211.19,111.62 L215.26,111.30 L219.33,110.98 L223.39,110.65 L227.46,110.31 L231.53,109.96 L235.60,109.60 L239.67,109.24 L243.74,108.87 L247.81,108.49 L251.88,108.11 L255.95,107.71 L260.01,107.31 L264.08,106.91 L268.15,106.49 L272.22,106.07 L276.29,105.64 L280.36,105.20 L284.43,104.76 L288.50,104.31 L292.57,103.85 L296.63,103.38 L300.70,102.91 L304.77,102.43 L308.84,101.94 L312.91,101.44 L316.98,100.94 L321.05,100.43 L325.12,99.92 L329.19,99.39 L333.25,98.86 L337.32,98.33 L341.39,97.78 L345.46,97.23 L349.53,96.68 L353.60,96.11 L357.67,95.54 L361.74,94.96 L365.81,94.38 L369.87,93.79 L373.94,93.19 L378.01,92.58 L382.08,91.97 L386.15,91.35 L390.22,90.73 L394.29,90.10 L398.36,89.46 L402.43,88.81 L406.49,88.16 L410.56,87.51 L414.63,86.84 L418.70,86.17 L422.77,85.50 L426.84,84.81 L430.91,84.12 L434.98,83.43 L439.05,82.73 L443.12,82.02 L447.18,81.31 L451.25,80.59 L455.32,79.86 L459.39,79.13 L463.46,78.39 L467.53,77.64 L471.60,76.89 L475.67,76.14 L479.74,75.37 L483.80,74.61 L487.87,73.83 L491.94,73.05 L496.01,72.26 L500.08,71.47 L504.15,70.67 L508.22,69.87 L512.29,69.06 L516.36,68.24 L520.42,67.42 L524.49,66.60 L528.56,65.76 L532.63,64.93 L536.70,64.08"/>
<path d="M52.50,129.64 L56.57,129.64 L60.64,129.63 L64.71,129.60 L68.78,129.58 L72.84,129.54 L76.91,129.49 L80.98,129.44 L85.05,129.37 L89.12,129.30 L93.19,129.22 L97.26,129.13 L101.33,129.04 L105.40,128.93 L109.46,128.82 L113.53,128.70 L117.60,128.57 L121.67,128.43 L125.74,128.28 L129.81,128.13 L133.88,127.96 L137.95,127.79 L142.02,127.61 L146.08,127.42 L150.15,127.23 L154.22,127.02 L158.29,126.81 L162.36,126.59 L166.43,126.36 L170.50,126.12 L174.57,125.87 L178.64,125.62 L182.71,125.36 L186.77,125.09 L190.84,124.81 L194.91,124.52 L198.98,124.23 L203.05,123.93 L207.12,123.62 L211.19,123.30 L215.26,122.98 L219.33,122.64 L223.39,122.30 L227.46,121.95 L231.53,121.59 L235.60,121.23 L239.67,120.86 L243.74,120.48 L247.81,120.09 L251.88,119.69 L255.95,119.29 L260.01,118.88 L264.08,118.46 L268.15,118.03 L272.22,117.60 L276.29,117.16 L280.36,116.71 L284.43,116.25 L288.50,115.79 L292.57,115.32 L296.63,114.84 L300.70,114.35 L304.77,113.86 L308.84,113.36 L312.91,112.85 L316.98,112.34 L321.05,111.82 L325.12,111.29 L329.19,110.75 L333.25,110.21 L337.32,109.66 L341.39,109.10 L345.46,108.53 L349.53,107.96 L353.60,107.38 L357.67,106.80 L361.74,106.21 L365.81,105.61 L369.87,105.00 L373.94,104.39 L378.01,103.77 L382.08,103.14 L386.15,102.51 L390.22,101.87 L394.29,101.23 L398.36,100.57 L402.43,99.91 L406.49,99.25 L410.56,98.58 L414.63,97.90 L418.70,97.21 L422.77,96.52 L426.84,95.82 L430.91,95.12 L434.98,94.41 L439.05,93.69 L443.12,92.97 L447.18,92.24 L451.25,91.50 L455.32,90.76 L459.39,90.01 L463.46,89.26 L467.53,88.50 L471.60,87.73 L475.67,86.96 L479.74,86.18 L483.80,85.40 L487.87,84.60 L491.94,83.81 L496.01,83.01 L500.08,82.20 L504.15,81.38 L508.22,80.56 L512.29,79.74 L516.36,78.90 L520.42,78.07 L524.49,77.22 L528.56,76.37 L532.63,75.52 L536.70,74.66"/>
<path d="M52.50,143.02 L56.57,143.02 L60.64,143.01 L64.71,142.98 L68.78,142.95 L72.84,142.91 L76.91,142.87 L80.98,142.81 L85.05,142.74 L89.12,142.67 L93.19,142.59 L97.26,142.50 L101.33,142.39 L105.40,142.29 L109.46,142.17 L113.53,142.04 L117.60,141.91 L121.67,141.76 L125.74,141.61 L129.81,141.45 L133.88,141.28 L137.95,141.10 L142.02,140.92 L146.08,140.72 L150.15,140.52 L154.22,140.31 L158.29,140.09 L162.36,139.86 L166.43,139.62 L170.50,139.37 L174.57,139.12 L178.64,138.86 L182.71,138.59 L186.77,138.31 L190.84,138.02 L194.91,137.73 L198.98,137.42 L203.05,137.11 L207.12,136.79 L211.19,136.46 L215.26,136.13 L219.33,135.78 L223.39,135.43 L227.46,135.07 L231.53,134.70 L235.60,134.33 L239.67,133.94 L243.74,133.55 L247.81,133.15 L251.88,132.74 L255.95,132.33 L260.01,131.91 L264.08,131.47 L268.15,131.04 L272.22,130.59 L276.29,130.14 L280.36,129.68 L284.43,129.21 L288.50,128.73 L292.57,128.25 L296.63,127.76 L300.70,127.26 L304.77,126.75 L308.84,126.24 L312.91,125.72 L316.98,125.19 L321.05,124.66 L325.12,124.12 L329.19,123.57 L333.25,123.01 L337.32,122.45 L341.39,121.88 L345.46,121.31 L349.53,120.72 L353.60,120.13 L357.67,119.54 L361.74,118.93 L365.81,118.32 L369.87,117.70 L373.94,117.08 L378.01,116.45 L382.08,115.81 L386.15,115.17 L390.22,114.52 L394.29,113.86 L398.36,113.20 L402.43,112.53 L406.49,111.85 L410.56,111.17 L414.63,110.48 L418.70,109.78 L422.77,109.08 L426.84,108.37 L430.91,107.66 L434.98,106.94 L439.05,106.21 L443.12,105.48 L447.18,104.74 L451.25,104.00 L455.32,103.25 L459.39,102.49 L463.46,101.73 L467.53,100.96 L471.60,100.19 L475.67,99.41 L479.74,98.62 L483.80,97.83 L487.87,97.04 L491.94,96.23 L496.01,95.43 L500.08,94.61 L504.15,93.79 L508.22,92.97 L512.29,92.14 L516.36,91.30 L520.42,90.46 L524.49,89.61 L528.56,88.76 L532.63,87.90 L536.70,87.04"/>
<path d="M52.50,158.37 L56.57,158.36 L60.64,158.35 L64.71,158.33 L68.78,158.29 L72.84,158.25 L76.91,158.20 L80.98,158.14 L85.05,158.07 L89.12,157.99 L93.19,157.90 L97.26,157.80 L101.33,157.69 L105.40,157.57 L109.46,157.45 L113.53,157.31 L117.60,157.17 L121.67,157.01 L125.74,156.85 L129.81,156.67 L133.88,156.49 L137.95,156.30 L142.02,156.10 L146.08,155.89 L150.15,155.67 L154.22,155.44 L158.29,155.21 L162.36,154.96 L166.43,154.71 L170.50,154.44 L174.57,154.17 L178.64,153.89 L182.71,153.60 L186.77,153.30 L190.84,152.99 L194.91,152.68 L198.98,152.35 L203.05,152.02 L207.12,151.68 L211.19,151.33 L215.26,150.97 L219.33,150.60 L223.39,150.23 L227.46,149.84 L231.53,149.45 L235.60,149.05 L239.67,148.64 L243.74,148.22 L247.81,147.80 L251.88,147.37 L255.95,146.93 L260.01,146.48 L264.08,146.02 L268.15,145.56 L272.22,145.08 L276.29,144.60 L280.36,144.12 L284.43,143.62 L288.50,143.12 L292.57,142.61 L296.63,142.09 L300.70,141.57 L304.77,141.03 L308.84,140.49 L312.91,139.95 L316.98,139.39 L321.05,138.83 L325.12,138.26 L329.19,137.69 L333.25,137.10 L337.32,136.52 L341.39,135.92 L345.46,135.32 L349.53,134.71 L353.60,134.09 L357.67,133.47 L361.74,132.84 L365.81,132.20 L369.87,131.56 L373.94,130.91 L378.01,130.25 L382.08,129.59 L386.15,128.92 L390.22,128.25 L394.29,127.57 L398.36,126.88 L402.43,126.18 L406.49,125.49 L410.56,124.78 L414.63,124.07 L418.70,123.35 L422.77,122.63 L426.84,121.90 L430.91,121.16 L434.98,120.42 L439.05,119.68 L443.12,118.93 L447.18,118.17 L451.25,117.40 L455.32,116.64 L459.39,115.86 L463.46,115.08 L467.53,114.30 L471.60,113.51 L475.67,112.71 L479.74,111.91 L483.80,111.10 L487.87,110.29 L491.94,109.48 L496.01,108.66 L500.08,107.83 L504.15,107.00 L508.22,106.16 L512.29,105.32 L516.36,104.47 L520.42,103.62 L524.49,102.76 L528.56,101.90 L532.63,101.04 L536.70,100.17"/>
<path d="M52.50,175.78 L56.57,175.78 L60.64,175.76 L64.71,175.74 L68.78,175.70 L72.84,175.66 L76.91,175.60 L80.98,175.54 L85.05,175.46 L89.12,175.38 L93.19,175.29 L97.26,175.18 L101.33,175.07 L105.40,174.94 L109.46,174.81 L113.53,174.67 L117.60,174.51 L121.67,174.35 L125.74,174.18 L129.81,174.00 L133.88,173.81 L137.95,173.60 L142.02,173.39 L146.08,173.17 L150.15,172.94 L154.22,172.70 L158.29,172.45 L162.36,172.20 L166.43,171.93 L170.50,171.65 L174.57,171.37 L178.64,171.07 L182.71,170.77 L186.77,170.45 L190.84,170.13 L194.91,169.80 L198.98,169.46 L203.05,169.11 L207.12,168.75 L211.19,168.38 L215.26,168.00 L219.33,167.62 L223.39,167.23 L227.46,166.82 L231.53,166.41 L235.60,165.99 L239.67,165.56 L243.74,165.13 L247.81,164.68 L251.88,164.23 L255.95,163.77 L260.01,163.30 L264.08,162.82 L268.15,162.34 L272.22,161.84 L276.29,161.34 L280.36,160.83 L284.43,160.31 L288.50,159.79 L292.57,159.26 L296.63,158.72 L300.70,158.17 L304.77,157.61 L308.84,157.05 L312.91,156.48 L316.98,155.90 L321.05,155.31 L325.12,154.72 L329.19,154.12 L333.25,153.51 L337.32,152.90 L341.39,152.28 L345.46,151.65 L349.53,151.01 L353.60,150.37 L357.67,149.72 L361.74,149.07 L365.81,148.40 L369.87,147.74 L373.94,147.06 L378.01,146.38 L382.08,145.69 L386.15,144.99 L390.22,144.29 L394.29,143.58 L398.36,142.87 L402.43,142.15 L406.49,141.42 L410.56,140.69 L414.63,139.95 L418.70,139.20 L422.77,138.45 L426.84,137.69 L430.91,136.93 L434.98,136.16 L439.05,135.39 L443.12,134.61 L447.18,133.82 L451.25,133.03 L455.32,132.23 L459.39,131.43 L463.46,130.62 L467.53,129.80 L471.60,128.98 L475.67,128.16 L479.74,127.32 L483.80,126.49 L487.87,125.65 L491.94,124.80 L496.01,123.95 L500.08,123.09 L504.15,122.23 L508.22,121.36 L512.29,120.48 L516.36,119.61 L520.42,118.72 L524.49,117.83 L528.56,116.94 L532.63,116.04 L536.70,115.14"/>
<path d="M52.50,196.77 L56.57,196.76 L60.64,196.74 L64.71,196.72 L68.78,196.68 L72.84,196.64 L76.91,196.58 L80.98,196.51 L85.05,196.43 L89.12,196.34 L93.19,196.24 L97.26,196.13 L101.33,196.02 L105.40,195.89 L109.46,195.75 L113.53,195.59 L117.60,195.43 L121.67,195.26 L125.74,195.08 L129.81,194.89 L133.88,194.69 L137.95,194.48 L142.02,194.26 L146.08,194.02 L150.15,193.78 L154.22,193.53 L158.29,193.27 L162.36,193.00 L166.43,192.72 L170.50,192.43 L174.57,192.13 L178.64,191.82 L182.71,191.50 L186.77,191.17 L190.84,190.83 L194.91,190.48 L198.98,190.12 L203.05,189.75 L207.12,189.38 L211.19,188.99 L215.26,188.60 L219.33,188.19 L223.39,187.78 L227.46,187.36 L231.53,186.92 L235.60,186.48 L239.67,186.03 L243.74,185.58 L247.81,185.11 L251.88,184.63 L255.95,184.15 L260.01,183.65 L264.08,183.15 L268.15,182.64 L272.22,182.12 L276.29,181.60 L280.36,181.06 L284.43,180.52 L288.50,179.96 L292.57,179.40 L296.63,178.83 L300.70,178.26 L304.77,177.67 L308.84,177.08 L312.91,176.48 L316.98,175.87 L321.05,175.25 L325.12,174.63 L329.19,174.00 L333.25,173.36 L337.32,172.71 L341.39,172.05 L345.46,171.39 L349.53,170.72 L353.60,170.05 L357.67,169.36 L361.74,168.67 L365.81,167.97 L369.87,167.26 L373.94,166.55 L378.01,165.83 L382.08,165.10 L386.15,164.36 L390.22,163.62 L394.29,162.87 L398.36,162.12 L402.43,161.35 L406.49,160.58 L410.56,159.81 L414.63,159.02 L418.70,158.23 L422.77,157.44 L426.84,156.63 L430.91,155.82 L434.98,155.01 L439.05,154.18 L443.12,153.35 L447.18,152.52 L451.25,151.67 L455.32,150.83 L459.39,149.97 L463.46,149.11 L467.53,148.24 L471.60,147.37 L475.67,146.49 L479.74,145.60 L483.80,144.71 L487.87,143.81 L491.94,142.90 L496.01,141.99 L500.08,141.07 L504.15,140.15 L508.22,139.22 L512.29,138.28 L516.36,137.34 L520.42,136.39 L524.49,135.44 L528.56,134.48 L532.63,133.52 L536.70,132.55"/>
<path d="M52.50,224.35 L56.57,224.35 L60.64,224.33 L64.71,224.30 L68.78,224.25 L72.84,224.20 L76.91,224.13 L80.98,224.05 L85.05,223.96 L89.12,223.86 L93.19,223.75 L97.26,223.62 L101.33,223.48 L105.40,223.33 L109.46,223.17 L113.53,222.99 L117.60,222.81 L121.67,222.61 L125.74,222.40 L129.81,222.18 L133.88,221.95 L137.95,221.70 L142.02,221.45 L146.08,221.18 L150.15,220.90 L154.22,220.61 L158.29,220.31 L162.36,220.00 L166.43,219.68 L170.50,219.35 L174.57,219.00 L178.64,218.65 L182.71,218.29 L186.77,217.91 L190.84,217.52 L194.91,217.13 L198.98,216.72 L203.05,216.30 L207.12,215.88 L211.19,215.44 L215.26,214.99 L219.33,214.54 L223.39,214.07 L227.46,213.59 L231.53,213.11 L235.60,212.61 L239.67,212.11 L243.74,211.59 L247.81,211.07 L251.88,210.54 L255.95,209.99 L260.01,209.44 L264.08,208.88 L268.15,208.32 L272.22,207.74 L276.29,207.15 L280.36,206.56 L284.43,205.96 L288.50,205.35 L292.57,204.73 L296.63,204.10 L300.70,203.46 L304.77,202.82 L308.84,202.17 L312.91,201.51 L316.98,200.84 L321.05,200.17 L325.12,199.48 L329.19,198.79 L333.25,198.10 L337.32,197.39 L341.39,196.68 L345.46,195.96 L349.53,195.23 L353.60,194.49 L357.67,193.75 L361.74,193.00 L365.81,192.25 L369.87,191.48 L373.94,190.71 L378.01,189.94 L382.08,189.15 L386.15,188.36 L390.22,187.57 L394.29,186.76 L398.36,185.95 L402.43,185.13 L406.49,184.31 L410.56,183.48 L414.63,182.64 L418.70,181.80 L422.77,180.95 L426.84,180.10 L430.91,179.24 L434.98,178.37 L439.05,177.49 L443.12,176.61 L447.18,175.73 L451.25,174.84 L455.32,173.94 L459.39,173.03 L463.46,172.12 L467.53,171.21 L471.60,170.29 L475.67,169.36 L479.74,168.42 L483.80,167.48 L487.87,166.54 L491.94,165.59 L496.01,164.63 L500.08,163.67 L504.15,162.70 L508.22,161.73 L512.29,160.75 L516.36,159.76 L520.42,158.77 L524.49,157.78 L528.56,156.78 L532.63,155.77 L536.70,154.76"/>
<path d="M52.50,273.85 L56.57,273.84 L60.64,273.80 L64.71,273.75 L68.78,273.67 L72.84,273.57 L76.91,273.45 L80.98,273.31 L85.05,273.15 L89.12,272.96 L93.19,272.76 L97.26,272.53 L101.33,272.29 L105.40,272.02 L109.46,271.74 L113.53,271.43 L117.60,271.11 L121.67,270.77 L125.74,270.41 L129.81,270.03 L133.88,269.64 L137.95,269.23 L142.02,268.80 L146.08,268.36 L150.15,267.90 L154.22,267.43 L158.29,266.94 L162.36,266.44 L166.43,265.92 L170.50,265.39 L174.57,264.85 L178.64,264.29 L182.71,263.72 L186.77,263.14 L190.84,262.55 L194.91,261.94 L198.98,261.33 L203.05,260.70 L207.12,260.07 L211.19,259.42 L215.26,258.76 L219.33,258.10 L223.39,257.42 L227.46,256.74 L231.53,256.04 L235.60,255.34 L239.67,254.63 L243.74,253.91 L247.81,253.18 L251.88,252.45 L255.95,251.71 L260.01,250.96 L264.08,250.20 L268.15,249.43 L272.22,248.66 L276.29,247.88 L280.36,247.10 L284.43,246.31 L288.50,245.51 L292.57,244.70 L296.63,243.89 L300.70,243.08 L304.77,242.25 L308.84,241.43 L312.91,240.59 L316.98,239.75 L321.05,238.91 L325.12,238.06 L329.19,237.20 L333.25,236.34 L337.32,235.47 L341.39,234.60 L345.46,233.72 L349.53,232.84 L353.60,231.96 L357.67,231.06 L361.74,230.17 L365.81,229.27 L369.87,228.36 L373.94,227.45 L378.01,226.53 L382.08,225.61 L386.15,224.69 L390.22,223.76 L394.29,222.83 L398.36,221.89 L402.43,220.95 L406.49,220.00 L410.56,219.05 L414.63,218.09 L418.70,217.13 L422.77,216.17 L426.84,215.20 L430.91,214.23 L434.98,213.25 L439.05,212.27 L443.12,211.28 L447.18,210.29 L451.25,209.30 L455.32,208.30 L459.39,207.30 L463.46,206.29 L467.53,205.28 L471.60,204.26 L475.67,203.24 L479.74,202.22 L483.80,201.19 L487.87,200.16 L491.94,199.13 L496.01,198.09 L500.08,197.04 L504.15,195.99 L508.22,194.94 L512.29,193.89 L516.36,192.83 L520.42,191.76 L524.49,190.69 L528.56,189.62 L532.63,188.54 L536.70,187.46"/>
</g>
<path d="M100.6,65.8 V230" stroke="#000" stroke-width="1.3" fill="none"/>
<path d="M94.0,228.8 L107.2,228.8 L100.6,254.2 Z" fill="#000"/>
<g fill="none" stroke="#000" stroke-width="1.1" stroke-linecap="round" stroke-linejoin="round">
<g transform="translate(19.40,20.10)"><ellipse cx="0" cy="-6.05" rx="3.45" ry="5.5"/></g><g transform="translate(30.90,20.10)"><circle cx="0" cy="-1.3" r="1.3" fill="#000" stroke="none"/></g><g transform="translate(42.40,20.10)"><path d="M-3.4,-8.4 C-3.3,-10.4 -1.8,-11.55 0,-11.55 C1.8,-11.55 3.3,-10.3 3.3,-8.5 C3.3,-6.9 2.2,-5.9 0.7,-4.7 L-3.7,-0.8 H3.9 V-1.9"/></g>
<g transform="translate(7.90,94.70)"><ellipse cx="0" cy="-6.05" rx="3.45" ry="5.5"/></g><g transform="translate(19.40,94.70)"><circle cx="0" cy="-1.3" r="1.3" fill="#000" stroke="none"/></g><g transform="translate(30.90,94.70)"><path d="M-3.5,-9.7 L0,-11.5 V-0.55 M-3.4,-0.55 H3.5"/></g><g transform="translate(42.40,94.70)"><path d="M2.9,-11.4 H-2.9 V-6.5 C-1.9,-7.3 -0.8,-7.6 0.1,-7.6 C2.2,-7.6 3.6,-6.1 3.6,-4.05 C3.6,-1.9 2.2,-0.55 0.1,-0.55 C-1.5,-0.55 -2.9,-1.2 -3.8,-2.3"/></g>
<g transform="translate(19.40,169.50)"><ellipse cx="0" cy="-6.05" rx="3.45" ry="5.5"/></g><g transform="translate(30.90,169.50)"><circle cx="0" cy="-1.3" r="1.3" fill="#000" stroke="none"/></g><g transform="translate(42.40,169.50)"><path d="M-3.5,-9.7 L0,-11.5 V-0.55 M-3.4,-0.55 H3.5"/></g>
<g transform="translate(7.90,244.30)"><ellipse cx="0" cy="-6.05" rx="3.45" ry="5.5"/></g><g transform="translate(19.40,244.30)"><circle cx="0" cy="-1.3" r="1.3" fill="#000" stroke="none"/></g><g transform="translate(30.90,244.30)"><ellipse cx="0" cy="-6.05" rx="3.45" ry="5.5"/></g><g transform="translate(42.40,244.30)"><path d="M2.9,-11.4 H-2.9 V-6.5 C-1.9,-7.3 -0.8,-7.6 0.1,-7.6 C2.2,-7.6 3.6,-6.1 3.6,-4.05 C3.6,-1.9 2.2,-0.55 0.1,-0.55 C-1.5,-0.55 -2.9,-1.2 -3.8,-2.3"/></g>
<g transform="translate(156.25,331.20)"><ellipse cx="0" cy="-6.05" rx="3.45" ry="5.5"/></g><g transform="translate(167.75,331.20)"><circle cx="0" cy="-1.3" r="1.3" fill="#000" stroke="none"/></g><g transform="translate(179.25,331.20)"><ellipse cx="0" cy="-6.05" rx="3.45" ry="5.5"/></g><g transform="translate(190.75,331.20)"><path d="M2.9,-11.4 H-2.9 V-6.5 C-1.9,-7.3 -0.8,-7.6 0.1,-7.6 C2.2,-7.6 3.6,-6.1 3.6,-4.05 C3.6,-1.9 2.2,-0.55 0.1,-0.55 C-1.5,-0.55 -2.9,-1.2 -3.8,-2.3"/></g>
<g transform="translate(283.00,331.20)"><ellipse cx="0" cy="-6.05" rx="3.45" ry="5.5"/></g><g transform="translate(294.50,331.20)"><circle cx="0" cy="-1.3" r="1.3" fill="#000" stroke="none"/></g><g transform="translate(306.00,331.20)"><path d="M-3.5,-9.7 L0,-11.5 V-0.55 M-3.4,-0.55 H3.5"/></g>
<g transform="translate(398.25,331.20)"><ellipse cx="0" cy="-6.05" rx="3.45" ry="5.5"/></g><g transform="translate(409.75,331.20)"><circle cx="0" cy="-1.3" r="1.3" fill="#000" stroke="none"/></g><g transform="translate(421.25,331.20)"><path d="M-3.5,-9.7 L0,-11.5 V-0.55 M-3.4,-0.55 H3.5"/></g><g transform="translate(432.75,331.20)"><path d="M2.9,-11.4 H-2.9 V-6.5 C-1.9,-7.3 -0.8,-7.6 0.1,-7.6 C2.2,-7.6 3.6,-6.1 3.6,-4.05 C3.6,-1.9 2.2,-0.55 0.1,-0.55 C-1.5,-0.55 -2.9,-1.2 -3.8,-2.3"/></g>
<g transform="translate(525.00,331.20)"><ellipse cx="0" cy="-6.05" rx="3.45" ry="5.5"/></g><g transform="translate(536.50,331.20)"><circle cx="0" cy="-1.3" r="1.3" fill="#000" stroke="none"/></g><g transform="translate(548.00,331.20)"><path d="M-3.4,-8.4 C-3.3,-10.4 -1.8,-11.55 0,-11.55 C1.8,-11.55 3.3,-10.3 3.3,-8.5 C3.3,-6.9 2.2,-5.9 0.7,-4.7 L-3.7,-0.8 H3.9 V-1.9"/></g>
</g>
</svg></body></html>
